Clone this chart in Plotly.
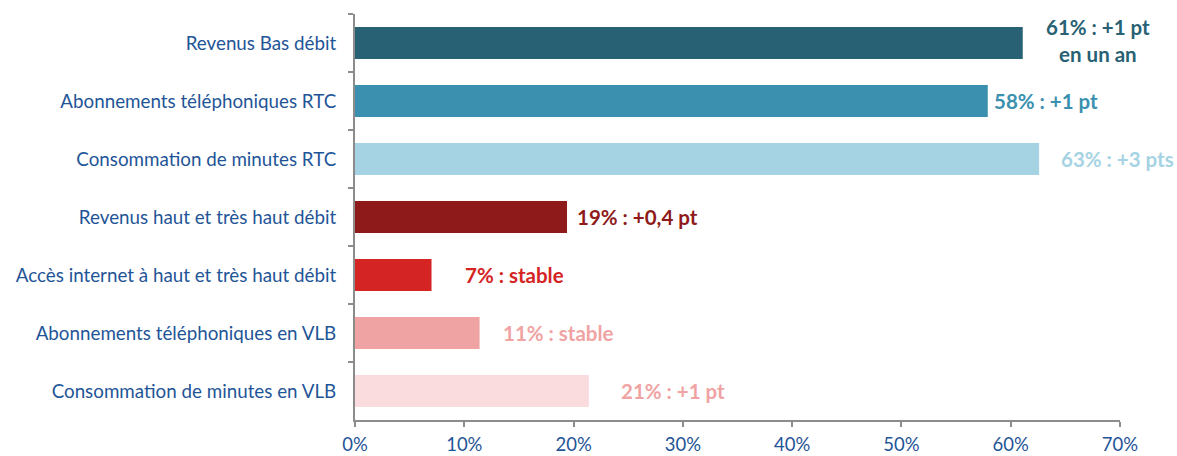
import plotly.graph_objects as go

categories = [
    "Revenus Bas débit",
    "Abonnements téléphoniques RTC",
    "Consommation de minutes RTC",
    "Revenus haut et très haut débit",
    "Accès internet à haut et très haut débit",
    "Abonnements téléphoniques en VLB",
    "Consommation de minutes en VLB",
]
values = [61.1, 57.9, 62.6, 19.4, 7.0, 11.4, 21.4]
labels = [
    "61% : +1 pt<br>en un an",
    "58% : +1 pt",
    "63% : +3 pts",
    "19% : +0,4 pt",
    "7% : stable",
    "11% : stable",
    "21% : +1 pt",
]
tick_vals = [0, 10, 20, 30, 40, 50, 60, 70]
tick_text = ["0%", "10%", "20%", "30%", "40%", "50%", "60%", "70%"]

bar_colors = ["#276173", "#3a90ae", "#a6d3e3", "#8e1a1a", "#d42424", "#f0a3a3", "#fadcdf"]
label_colors = ["#276173", "#3a90ae", "#a6d3e3", "#8e1a1a", "#d42424", "#f0a3a3", "#f0a3a3"]
# label placement (percent units), anchors and pixel nudges
label_x = [68.0, 58.3, 64.4, 20.1, 9.9, 13.4, 24.2]
label_anchor = ["center", "left", "left", "left", "left", "left", "left"]
label_yshift = [3, 0, 0, 0, 0, 0, 0]

fig = go.Figure(
    go.Bar(
        y=categories,
        x=values,
        orientation="h",
        marker=dict(color=bar_colors, line=dict(width=0)),
        width=0.55,
        hoverinfo="skip",
    )
)

for cat, lx, txt, col, anc, ys in zip(categories, label_x, labels, label_colors, label_anchor, label_yshift):
    fig.add_annotation(
        x=lx, y=cat, text="<b>" + txt + "</b>", showarrow=False,
        xanchor=anc, yanchor="middle", align="center", yshift=ys,
        font=dict(family="Lato", size=20.5, color=col),
    )

axis_gray = "#8c8c8c"
tick_blue = "#1f5597"

fig.update_layout(
    width=1177, height=456,
    margin=dict(l=355, r=57, t=14, b=36, autoexpand=False),
    paper_bgcolor="white", plot_bgcolor="white",
    showlegend=False,
    bargap=0.45,
    xaxis=dict(
        range=[0, 70], tickvals=tick_vals, ticktext=tick_text,
        showgrid=False, zeroline=False,
        showline=True, linecolor=axis_gray, linewidth=2,
        ticks="outside", ticklen=5, tickcolor=axis_gray, tickwidth=2,
        tickfont=dict(family="Lato", size=18.5, color=tick_blue),
        ticklabelstandoff=2,
        automargin=False,
        fixedrange=True,
    ),
    yaxis=dict(
        categoryorder="array", categoryarray=categories, autorange="reversed",
        showgrid=False, zeroline=False,
        showline=True, linecolor=axis_gray, linewidth=2,
        ticks="outside", ticklen=5, tickcolor=axis_gray, tickwidth=2,
        tickson="boundaries",
        tickfont=dict(family="Lato", size=18.8, color=tick_blue),
        ticklabelstandoff=13,
        automargin=False,
        fixedrange=True,
    ),
)

fig.write_html("out.html")
